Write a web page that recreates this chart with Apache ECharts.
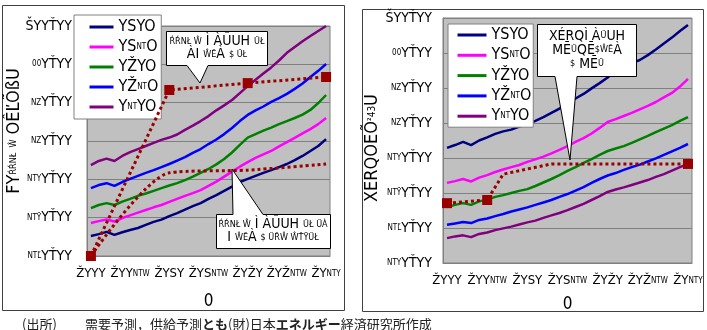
<!DOCTYPE html>
<html>
<head>
<meta charset="utf-8">
<script src="https://cdn.jsdelivr.net/npm/echarts@6/dist/echarts.min.js"></script>
<style>
  html, body { margin: 0; padding: 0; background: #fff; }
  #main { width: 707px; height: 330px; }
</style>
</head>
<body>
<div id="main"></div>
<script>
// years on the category axis
var years = [];
for (var y = 2000; y <= 2030; y++) years.push(String(y));

// tick labels (as they appear in the picture)
var xTickLabels = ['ŽYYY', 'ŽYY{s|NTW}', 'ŽYSY', 'ŽYS{s|NTW}', 'ŽYŽY', 'ŽYŽ{s|NTW}', 'ŽY{s|NTY}'];
var yTickLeft = ['{s|NTĽ}YŤYY', '{s|NTŸ}YŤYY', '{s|NTY}YŤYY', '{s|NZ}YŤYY', '{s|NZ}YŤYY', '{s|00}YŤYY', 'ŠYYŤYY'];
var yTickRight = ['{s|NTY}YŤYY', '{s|NTĽ}YŤYY', '{s|NTŸ}YŤYY', '{s|NTY}YŤYY', '{s|NZ}YŤYY', '{s|NZ}YŤYY', '{s|00}YŤYY', 'ŠYYŤYY'];

var names = ['YSYO', 'YSNTO', 'YŽYO', 'YŽNTO', 'YNTYO'];
var colors = ['#000080', '#ff00ff', '#008000', '#0000ff', '#800080'];

// left chart
var leftA = [5.2,5.7,6.3,5.5,6.2,6.8,7.3,8.1,8.9,9.5,10.4,11.2,12.1,13.0,13.8,14.9,15.9,17.0,18.1,19.3,20.1,20.9,21.7,22.4,23.2,24.0,25.0,26.1,27.4,28.7,30.5];
var leftB = [8.6,9.1,9.5,9.0,9.9,10.6,11.3,12.0,12.7,13.3,14.1,14.9,15.7,16.4,17.2,18.3,19.4,20.7,22.0,23.3,24.5,25.6,26.5,27.4,28.6,29.7,30.8,32.0,33.1,34.4,36.0];
var leftC = [12.5,13.3,13.8,13.3,14.2,14.9,15.7,16.3,17.0,17.7,18.4,19.0,19.8,20.7,21.7,22.7,23.9,25.3,27.0,29.0,30.9,31.8,32.7,33.5,34.4,35.2,36.0,36.9,38.1,39.9,42.0];
var leftD = [17.7,18.5,19.0,18.3,19.3,20.1,20.9,21.7,22.4,23.2,24.0,24.9,25.8,26.9,27.9,29.2,30.4,31.8,33.4,35.2,36.8,38.0,39.0,40.2,41.2,42.3,43.6,45.0,46.7,48.3,50.1];
var leftE = [23.7,24.8,25.4,24.8,26.1,27.1,27.9,28.7,29.5,30.3,30.9,31.7,32.9,34.0,35.2,36.5,38.0,39.3,40.7,42.5,44.3,46.0,47.6,49.2,51.0,53.0,54.5,56.0,57.4,58.7,60.0];
var supplyL1 = [['2000', 0], ['2010', 43.3], ['2020', 45.1], ['2030', 46.7]];
var supplyL2 = [['2000', 0], ['2010', 21.7], ['2020', 22.4], ['2030', 24.0]];

// right chart
var rightA = [32.9,33.7,34.6,33.7,35.0,35.9,36.9,37.6,38.1,39.0,39.6,40.6,41.7,42.9,44.1,45.7,47.0,48.3,49.9,51.4,53.0,54.9,56.3,57.1,58.0,59.4,61.0,62.7,64.4,66.3,68.0];
var rightB = [22.9,23.4,24.0,23.3,24.4,25.1,26.0,26.7,27.4,28.0,28.9,29.6,30.4,31.3,32.3,33.4,34.6,35.7,37.0,38.6,40.3,41.1,42.0,42.9,43.9,44.9,46.0,47.3,48.6,50.4,52.6];
var rightC = [16.0,16.6,17.1,16.6,17.6,18.1,18.9,19.4,20.0,20.6,21.1,22.0,23.0,24.0,25.1,26.3,27.4,28.6,29.7,30.9,32.0,32.7,33.4,34.3,35.3,36.3,37.4,38.4,39.4,40.6,41.7];
var rightD = [10.9,11.3,11.7,11.4,12.3,12.7,13.4,14.0,14.7,15.3,15.9,16.6,17.3,18.0,18.9,19.7,20.7,21.7,22.9,24.0,25.0,25.7,26.6,27.4,28.1,29.0,29.9,30.9,31.9,32.9,34.0];
var rightE = [7.1,7.6,7.9,7.4,8.3,8.7,9.4,9.9,10.4,11.0,11.6,12.1,12.9,13.6,14.3,15.1,16.0,16.9,18.0,19.1,20.3,21.0,21.6,22.3,23.0,23.7,24.6,25.4,26.4,27.4,28.3];
var supplyR = [['2000', 17.1], ['2005', 18.0], ['2007', 25.4], ['2013', 28.3], ['2030', 28.3]];

var FONT = "'Liberation Sans Narrow', 'DejaVu Sans Condensed', 'DejaVu Serif Condensed', 'Liberation Serif', serif";
var JP = "'Noto Sans CJK JP', sans-serif";
var RED = '#990000';
var small = { s: { fontSize: 8, fontFamily: FONT, color: '#000' } };

var myChart = echarts.init(document.getElementById('main'));

function xAxisFor(i, gap) {
    return {
        type: 'category', gridIndex: i, data: years, boundaryGap: true,
        axisLine: { lineStyle: { color: '#808080' } },
        axisTick: { interval: 4, inside: true, length: 4, lineStyle: { color: '#808080' } },
        axisLabel: {
            interval: 4, margin: 11, color: '#000', fontFamily: FONT, fontSize: 13,
            formatter: function (v, idx) { return xTickLabels[idx / 5]; },
            rich: small
        },
        name: '0', nameLocation: 'middle', nameGap: gap,
        nameTextStyle: { color: '#000', fontFamily: FONT, fontSize: 17 }
    };
}

function yAxisFor(i, max, labels, margin) {
    return {
        type: 'value', gridIndex: i, min: 0, max: max, interval: 10,
        axisLine: { show: true, lineStyle: { color: '#808080' } },
        axisTick: { show: false },
        splitLine: { lineStyle: { color: '#808080', width: 1 } },
        axisLabel: {
            margin: margin, color: '#000', fontFamily: FONT, fontSize: 14,
            formatter: function (v) { return labels[Math.round(v / 10)]; },
            rich: small
        }
    };
}

function lines(idx, arrs) {
    return arrs.map(function (d, k) {
        return {
            name: names[k], type: 'line', xAxisIndex: idx, yAxisIndex: idx,
            data: d, symbol: 'none', color: colors[k],
            lineStyle: { width: 2.5, color: colors[k] }, z: 2
        };
    });
}

function legendFor(left, top, pad, gap, w) {
    return {
        left: left, top: top, orient: 'vertical', data: names,
        backgroundColor: '#fff', borderColor: '#808080', borderWidth: 1,
        padding: pad, itemGap: gap, itemWidth: w, itemHeight: 12,
        itemStyle: { opacity: 0 },
        lineStyle: { width: 3 },
        textStyle: { fontFamily: FONT, fontSize: 16, color: '#000', rich: small },
        formatter: function (n) { return n.replace('NT', '{s|NT}'); }
    };
}

var redDot = { type: [3, 3], width: 3, color: RED };

option = {
    animation: false,
    backgroundColor: '#fff',
    grid: [
        { left: 87, top: 26, width: 243, height: 230, show: true, backgroundColor: '#c0c0c0', borderColor: '#808080', borderWidth: 1 },
        { left: 443, top: 18, width: 249, height: 245, show: true, backgroundColor: '#c0c0c0', borderColor: '#808080', borderWidth: 1 }
    ],
    xAxis: [xAxisFor(0, 37), xAxisFor(1, 33)],
    yAxis: [yAxisFor(0, 60, yTickLeft, 15), yAxisFor(1, 70, yTickRight, 11)],
    legend: [
        legendFor(74, 15, [4, 3, 4, 14], 4, 24),
        legendFor(448, 24, [3, 2, 3, 8], 4.3, 29)
    ],
    series: lines(0, [leftA, leftB, leftC, leftD, leftE])
        .concat(lines(1, [rightA, rightB, rightC, rightD, rightE]))
        .concat([
            { name: 'supplyL1', type: 'line', xAxisIndex: 0, yAxisIndex: 0, data: supplyL1,
              symbol: 'rect', symbolSize: 10, itemStyle: { color: RED }, lineStyle: redDot, z: 5 },
            { name: 'supplyL2', type: 'line', xAxisIndex: 0, yAxisIndex: 0, data: supplyL2,
              symbol: 'none', smooth: 0.25, lineStyle: redDot, z: 4 },
            { name: 'supplyR', type: 'line', xAxisIndex: 1, yAxisIndex: 1, data: supplyR,
              symbol: 'rect', symbolSize: 10, itemStyle: { color: RED }, lineStyle: redDot, z: 5 }
        ]),
    graphic: [
        // chart frames
        { type: 'rect', shape: { x: 2.5, y: 5.5, width: 342, height: 305 }, style: { fill: 'none', stroke: '#404040', lineWidth: 1 }, z: 0 },
        { type: 'rect', shape: { x: 362.5, y: 9.5, width: 341, height: 302 }, style: { fill: 'none', stroke: '#404040', lineWidth: 1 }, z: 0 },
        // y axis titles
        { type: 'text', x: 14, y: 131, rotation: Math.PI / 2,
          style: { text: 'FY{s|ŔŔNŁ} {s|Ŵ} OÊĽÕßU', rich: { s: { fontSize: 9, fontFamily: FONT } }, font: '18px ' + FONT, fill: '#000', textAlign: 'center', textVerticalAlign: 'middle' } },
        { type: 'text', x: 372, y: 148, rotation: Math.PI / 2,
          style: { text: 'XERQOEÕ{s|²43}U', rich: { s: { fontSize: 10, fontFamily: FONT } }, font: '18px ' + FONT, fill: '#000', textAlign: 'center', textVerticalAlign: 'middle' } },
        // callouts
        { type: 'polygon', z: 20,
          shape: { points: [[166.5, 31.5], [267.5, 31.5], [267.5, 65.5], [208, 65.5], [200, 83], [187, 65.5], [166.5, 65.5]] },
          style: { fill: '#fff', stroke: '#000', lineWidth: 1 } },
        { type: 'text', z: 21, x: 217, y: 48,
          style: { text: '{s|ŔŔNŁ Ŵ} Ì ÀŰUH {s|ŰŁ}\nÀI {s|ŴĒ}À {s|$ ŰŁ}', rich: { s: { fontSize: 9, fontFamily: FONT } },
                   font: '14px ' + FONT, lineHeight: 13, fill: '#000', textAlign: 'center', textVerticalAlign: 'middle' } },
        { type: 'polygon', z: 20,
          shape: { points: [[216.5, 214.5], [233, 214.5], [232, 169], [263, 214.5], [330.5, 214.5], [330.5, 248.5], [216.5, 248.5]] },
          style: { fill: '#fff', stroke: '#000', lineWidth: 1 } },
        { type: 'text', z: 21, x: 273, y: 231,
          style: { text: '{s|ŔŔNŁ Ŵ} Ì ÀŰUH {s|ŰŁ ŰÀ}\nI {s|ŴĒ}À {s|$ ŰŘŴ ŴŤŸŰŁ}', rich: { s: { fontSize: 9, fontFamily: FONT } },
                   font: '14px ' + FONT, lineHeight: 13, fill: '#000', textAlign: 'center', textVerticalAlign: 'middle' } },
        { type: 'polygon', z: 20,
          shape: { points: [[537.5, 24.5], [636.5, 24.5], [636.5, 76.5], [577, 76.5], [570, 160], [555, 76.5], [537.5, 76.5]] },
          style: { fill: '#fff', stroke: '#000', lineWidth: 1 } },
        { type: 'text', z: 21, x: 587, y: 50,
          style: { text: 'XÉRQÌ À{s|Ű}UH\nMĒ{s|Ű}QĒ{s|$}{s|ŴĒ}À\n{s|$} MĒ{s|Ű}', rich: { s: { fontSize: 9, fontFamily: FONT } },
                   font: '14px ' + FONT, lineHeight: 14, fill: '#000', textAlign: 'center', textVerticalAlign: 'middle' } },
        // source note
        { type: 'text', x: 22, y: 324,
          style: { text: '(出所)', font: '13px ' + JP, fill: '#222', textVerticalAlign: 'middle' } },
        { type: 'text', x: 85, y: 324,
          style: { text: '需要予測，供給予測{b|とも}(財)日本{b|エネルギー}経済研究所作成',
                   rich: { b: { fontWeight: 'bold', fontSize: 13, fontFamily: JP, fill: '#222' } },
                   font: '13px ' + JP, fill: '#222', textVerticalAlign: 'middle' } }
    ]
};

myChart.setOption(option);
</script>
</body>
</html>
